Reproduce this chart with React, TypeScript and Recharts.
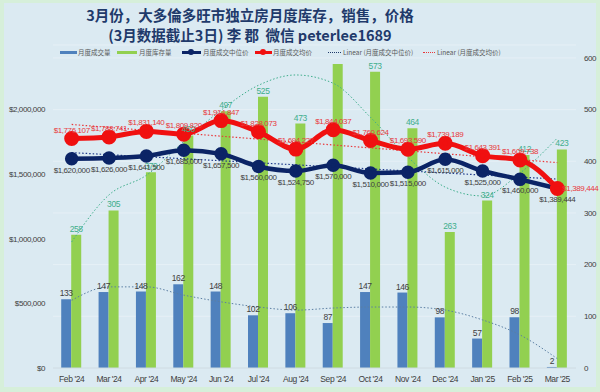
import React from "react";
import {
  ComposedChart,
  Bar,
  Line,
  XAxis,
  YAxis,
  CartesianGrid,
  LabelList,
  ReferenceLine,
} from "recharts";

const months = ["Feb '24", "Mar '24", "Apr '24", "May '24", "Jun '24", "Jul '24", "Aug '24", "Sep '24", "Oct '24", "Nov '24", "Dec '24", "Jan '25", "Feb '25", "Mar '25"];
const sales = [133, 147, 148, 162, 148, 102, 106, 87, 147, 146, 98, 57, 98, 2];
const inventory = [258, 305, 379, 450, 497, 525, 473, 588, 573, 464, 263, 324, 412, 423];
const median = [1620000, 1626000, 1641500, 1685000, 1657500, 1560000, 1524750, 1570000, 1510000, 1515000, 1615000, 1525000, 1460000, 1389444];
const average = [1776107, 1788741, 1831140, 1809820, 1914847, 1828073, 1694227, 1844037, 1760624, 1693590, 1739189, 1643391, 1609738, 1389444];
const inventoryTrend = [244, 335, 373, 438, 499, 547, 567, 551, 485, 408, 350, 333, 377, 445];
const salesTrend = [131, 157, 157, 141, 128, 118, 112, 116, 118, 118, 112, 93, 64, 18];
const medianLinear = [1667000, 1462000];
const averageLinear = [1885000, 1590000];
const leftTicks = [0, 500000, 1000000, 1500000, 2000000];
const rightTicks = [0, 100, 200, 300, 400, 500, 600];

const data = months.map((m, i) => ({
  month: m,
  sales: sales[i],
  inventory: inventory[i],
  median: median[i],
  average: average[i],
  inventoryTrend: inventoryTrend[i],
  salesTrend: salesTrend[i],
}));

const NUM_FONT = "'Liberation Sans', Arial, sans-serif";
const CJK_FONT = "'Noto Sans CJK SC', 'Noto Sans', sans-serif";
const LS = -0.4;
const money = (v: number) => "$" + v.toLocaleString("en-US");

const InvLabel = (props: any) => {
  const { x, y, width, value } = props;
  if (value > 580) return null;
  return (
    <text x={x + width / 2} y={y - 3} textAnchor="middle" fontSize={8.5} fill="#3fae8c" fontFamily={NUM_FONT} letterSpacing={LS}>
      {value}
    </text>
  );
};

const SalesLabel = (props: any) => {
  const { x, y, width, value } = props;
  return (
    <text x={x + width / 2} y={y - 3} textAnchor="middle" fontSize={8.5} fill="#404040" fontFamily={NUM_FONT} letterSpacing={LS}>
      {value}
    </text>
  );
};

const AvgLabel = (props: any) => {
  const { x, y, index, value } = props;
  const last = index === months.length - 1;
  return (
    <text
      x={last ? x + 5 : x}
      y={last ? y + 3 : y - 6}
      textAnchor={last ? "start" : "middle"}
      fontSize={8}
      fill="#e8383b"
      fontFamily={NUM_FONT}
      letterSpacing={LS}
    >
      {money(value)}
    </text>
  );
};

const MedLabel = (props: any) => {
  const { x, y, value } = props;
  return (
    <text x={x} y={y + 14} textAnchor="middle" fontSize={8} fill="#404040" fontFamily={NUM_FONT} letterSpacing={LS}>
      {money(value)}
    </text>
  );
};

const legendText: React.CSSProperties = {
  position: "absolute",
  top: 48,
  fontSize: 6.5,
  color: "#595959",
  fontFamily: CJK_FONT,
  lineHeight: "8px",
  whiteSpace: "nowrap",
};

const tickStyle = { fontSize: 8, fill: "#404040", fontFamily: NUM_FONT, letterSpacing: LS };

export default function App() {
  return (
    <div style={{ position: "absolute", left: 0, top: 0, width: 600, height: 392, background: "#d6efda" }}>
      <div style={{ position: "absolute", left: 4, top: 3, width: 592, height: 384, background: "#dbeaf2" }} />
      <div
        style={{
          position: "absolute",
          left: 0,
          top: 5,
          width: 500,
          textAlign: "center",
          fontFamily: CJK_FONT,
          fontWeight: 700,
          color: "#1f3a6b",
          fontSize: 14.5,
          lineHeight: "20px",
        }}
      >
        <div>3月份，大多倫多旺市独立房月度库存，销售，价格</div>
        <div>(3月数据截止3日) 李 郡&nbsp;&nbsp;微信 peterlee1689</div>
      </div>
      {/* legend */}
      <div style={{ position: "absolute", left: 60, top: 51, width: 17, height: 3, background: "#4f81bd" }} />
      <span style={{ ...legendText, left: 78 }}>月度成交量</span>
      <div style={{ position: "absolute", left: 117, top: 51, width: 20, height: 3, background: "#92d050" }} />
      <span style={{ ...legendText, left: 139 }}>月度库存量</span>
      <div style={{ position: "absolute", left: 182, top: 51, width: 19, height: 2.5, background: "#0b2466" }} />
      <div style={{ position: "absolute", left: 188, top: 49, width: 6, height: 6, borderRadius: 3, background: "#0b2466" }} />
      <span style={{ ...legendText, left: 203 }}>月度成交中位价</span>
      <div style={{ position: "absolute", left: 255, top: 51, width: 17, height: 2.5, background: "#f01010" }} />
      <div style={{ position: "absolute", left: 260, top: 49, width: 6, height: 6, borderRadius: 3, background: "#f01010" }} />
      <span style={{ ...legendText, left: 273 }}>月度成交均价</span>
      <div style={{ position: "absolute", left: 328, top: 52, width: 13, height: 0, borderTop: "1px dotted #1f3a6b" }} />
      <span style={{ ...legendText, left: 343 }}>Linear (月度成交中位价)</span>
      <div style={{ position: "absolute", left: 423, top: 52, width: 12, height: 0, borderTop: "1px dotted #e8383b" }} />
      <span style={{ ...legendText, left: 437 }}>Linear (月度成交均价)</span>

      <div style={{ position: "absolute", left: 0, top: 0 }}>
        <ComposedChart
          width={600}
          height={392}
          data={data}
          margin={{ top: 45, right: 0, bottom: 4, left: 0 }}
          barGap={0}
          barCategoryGap="22%"
        >
          <CartesianGrid yAxisId="right" vertical={false} stroke="#e6f0f6" />
          <XAxis
            dataKey="month"
            tickLine={false}
            axisLine={{ stroke: "#c9d8e0" }}
            height={20}
            interval={0}
            tick={{ ...tickStyle, fontSize: 8.5 }}
          />
          <YAxis
            yAxisId="left"
            orientation="left"
            width={53}
            domain={[0, 2500000]}
            ticks={leftTicks}
            tickLine={false}
            axisLine={false}
            tickFormatter={money}
            tick={tickStyle}
          />
          <YAxis
            yAxisId="right"
            orientation="right"
            width={24}
            domain={[0, 625]}
            ticks={rightTicks}
            tickLine={false}
            axisLine={false}
            tick={tickStyle}
          />
          <Bar yAxisId="right" dataKey="sales" fill="#4f81bd" isAnimationActive={false}>
            <LabelList dataKey="sales" content={SalesLabel} />
          </Bar>
          <Bar yAxisId="right" dataKey="inventory" fill="#92d050" isAnimationActive={false}>
            <LabelList dataKey="inventory" content={InvLabel} />
          </Bar>
          <Line
            yAxisId="right"
            dataKey="inventoryTrend"
            type="monotone"
            stroke="#3fae8c"
            strokeWidth={1}
            strokeDasharray="1.5 2"
            dot={false}
            activeDot={false}
            isAnimationActive={false}
          />
          <Line
            yAxisId="right"
            dataKey="salesTrend"
            type="monotone"
            stroke="#5b7fa3"
            strokeWidth={1}
            strokeDasharray="1.5 2"
            dot={false}
            activeDot={false}
            isAnimationActive={false}
          />
          <ReferenceLine
            yAxisId="left"
            segment={[
              { x: months[0], y: medianLinear[0] },
              { x: months[months.length - 1], y: medianLinear[1] },
            ]}
            stroke="#1f3a8b"
            strokeWidth={1.2}
            strokeDasharray="1.5 2"
          />
          <ReferenceLine
            yAxisId="left"
            segment={[
              { x: months[0], y: averageLinear[0] },
              { x: months[months.length - 1], y: averageLinear[1] },
            ]}
            stroke="#e8383b"
            strokeWidth={1.2}
            strokeDasharray="1.5 2"
          />
          <Line
            yAxisId="left"
            dataKey="median"
            type="monotone"
            stroke="#0b2466"
            strokeWidth={4.5}
            dot={{ r: 4.5, fill: "#0b2466", stroke: "#0b2466" }}
            activeDot={false}
            isAnimationActive={false}
          >
            <LabelList dataKey="median" content={MedLabel} />
          </Line>
          <Line
            yAxisId="left"
            dataKey="average"
            type="monotone"
            stroke="#f01010"
            strokeWidth={5}
            dot={{ r: 5, fill: "#f01010", stroke: "#f01010" }}
            activeDot={false}
            isAnimationActive={false}
          >
            <LabelList dataKey="average" content={AvgLabel} />
          </Line>
        </ComposedChart>
      </div>
    </div>
  );
}
